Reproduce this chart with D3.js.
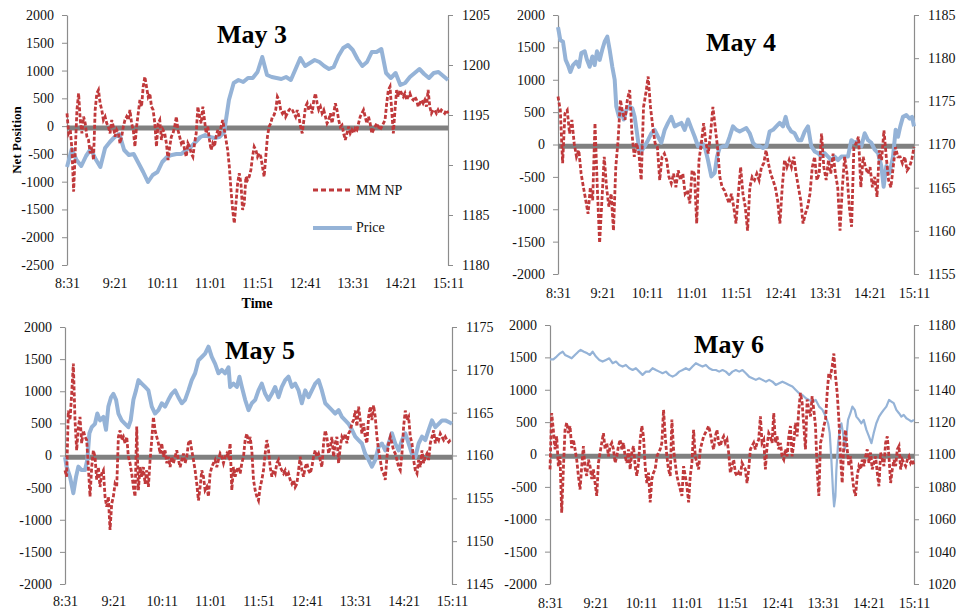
<!DOCTYPE html>
<html>
<head>
<meta charset="utf-8">
<script src="https://cdn.jsdelivr.net/npm/d3@7/dist/d3.min.js"></script>
<style>
  html, body { margin: 0; padding: 0; background: #fff; }
  svg { display: block; }
  text { font-family: "Liberation Serif", "Times New Roman", serif; }
</style>
</head>
<body>
<svg id="chart" width="958" height="614"></svg>
<script>
// Session clock: minutes after 8:31, labelled every 50 minutes
const timeLabels = ["8:31", "9:21", "10:11", "11:01", "11:51", "12:41", "13:31", "14:21", "15:11"];
const sessionMinutes = 400;

const dayTitles = ["May 3", "May 4", "May 5", "May 6"];
const seriesNames = ["MM NP", "Price"];

// Market-maker net position (contracts), evenly spaced through the session
const may3Net = [230,-130,-70,-430,-1180,-430,290,590,110,-130,170,50,-190,-250,-490,-370,-610,290,590,650,410,290,110,170,50,-10,-130,110,-10,-190,-70,-130,-310,-190,-10,110,170,110,290,50,-70,-370,-10,230,470,350,710,890,710,530,590,350,290,50,-370,50,110,-250,-70,-130,-310,-610,-370,-190,-130,-10,170,-70,-190,-310,-250,-430,-550,-310,-370,-490,-550,-310,-130,350,170,50,350,110,-130,-10,-250,-430,-310,-370,-190,-70,-190,-10,110,-70,-250,-430,-730,-1150,-1510,-1750,-1390,-1030,-850,-1030,-1510,-1390,-910,-970,-910,-790,-550,-370,-430,-550,-490,
  -550,-730,-910,-550,-190,-10,50,170,200,290,530,470,290,230,290,170,230,290,320,290,230,170,290,170,-10,-130,110,350,410,290,350,230,470,590,410,290,350,230,290,170,50,110,230,50,230,410,290,110,-10,20,-130,-250,-130,-10,-130,-70,-130,-40,-70,50,170,230,290,170,50,170,50,-130,-70,-10,50,-10,-70,-10,50,110,410,650,710,290,-130,290,650,530,650,590,530,590,470,530,590,500,470,530,470,350,410,470,410,470,350,650,350,230,290,290,230,290,230,290,260,230,290,230];
const may4Net = [740,530,-290,480,530,170,380,20,-190,-90,-450,-660,-860,-1070,-660,-860,330,-660,-1520,-860,-190,-660,-960,-760,-1330,-350,70,690,480,380,690,840,170,-190,20,-140,-550,580,790,1050,580,270,20,-40,-550,-190,-140,-240,-500,-600,-450,-660,-400,-550,-450,-760,-710,-910,-400,-450,-1220,-240,20,330,20,-140,170,580,270,-40,-500,-660,-710,-810,-910,-760,-960,-1220,-760,-350,-760,-960,-1330,-660,-500,-550,-450,-550,-350,-290,-90,-290,-450,-550,-660,-860,-1220,-660,-240,-350,-240,-350,-190,-450,-660,-860,-1220,-1070,-960,-760,-350,-190,-550,-450,170,-350,-550,-240,-450,-140,-450,-660,-1330,-660,-190,-450,-960,-1270,-40,20,120,-660,-190,-350,-450,-350,-660,-500,-810,-90,-240,220,-190,-550,-660,-350,-40,-190,-190,-290,-190,-400,-350,-240,-40];
const may5Net = [-230,-330,700,550,960,1430,550,80,450,600,190,390,290,240,-180,-640,-180,80,-20,-380,-180,-490,-280,-230,-640,-800,-640,-1160,-750,-640,-440,-490,290,390,240,290,190,290,-20,-120,-280,-490,-640,450,-540,-180,-330,-180,-440,-230,-490,-70,240,600,390,290,190,30,190,-20,80,-120,-20,-180,-20,-120,-20,80,-70,-180,-70,30,-120,-20,190,240,80,-70,-230,-440,-700,-490,-230,-330,-540,-490,-640,-280,-180,-120,-70,-180,-70,30,-20,-120,-20,30,-20,190,-540,-180,-330,-230,-180,-280,-120,-20,240,340,190,290,80,-380,-540,-640,-700,-490,-380,-230,30,240,80,-180,-330,-230,-280,-120,-70,-180,-230,-280,-230,-330,-280,-380,-440,-380,-490,-440,-230,-20,-230,-330,-180,-120,-230,-280,-180,-20,80,-20,30,-70,-180,190,390,290,30,130,290,-20,190,290,-120,130,290,240,340,190,340,390,500,550,700,450,760,550,340,500,290,190,600,760,550,780,600,290,80,-70,-230,-280,-380,-20,190,290,190,80,30,-70,-180,-230,30,450,700,550,600,290,190,-70,-230,-280,-70,-180,80,-120,-20,30,-70,190,290,390,190,290,240,340,290,240,290,240,210,240,240];
const may6Net = [-230,640,380,80,280,-180,-30,-900,-230,380,490,330,440,100,230,80,-80,-330,-540,-180,130,-230,-330,-80,-180,-380,-230,-440,-640,-130,30,180,330,80,180,-30,130,180,80,-130,-30,130,230,80,180,-30,-130,80,-230,30,130,-180,-330,-130,230,440,280,-180,-440,-280,-740,-380,-280,-230,-30,30,80,180,690,280,-30,-230,-330,540,80,-130,-330,-440,-540,-640,-180,-330,-490,-740,-330,-130,380,-30,-130,-230,80,180,280,330,380,440,330,180,80,280,380,180,130,230,280,180,230,30,-280,-180,-80,-280,-330,-280,-330,-130,-180,-230,-440,-230,80,130,180,80,180,230,590,180,230,-230,130,330,280,180,640,180,280,80,180,-30,-80,80,-30,280,440,-30,180,490,280,690,950,800,440,80,850,690,590,900,690,440,-230,-640,180,280,440,540,950,1260,1210,1360,1560,1210,950,540,-30,-440,180,380,80,-180,-30,-330,-540,-640,-330,-180,-230,-80,-180,-30,80,-130,30,-230,-130,-30,-280,-490,30,-80,-180,180,280,-30,-440,-230,-80,-180,80,130,-230,-80,-130,-180,-80,-30,-130,-80,-180];

// Futures price: May 3 every 5 minutes; other days as [minute, price]
const may3Price = [1189.8,1191.6,1190.5,1189.9,1190.9,1191.6,1190.6,1189.8,1191.7,1192.3,1192.8,1193.1,1191.5,1191.0,1191.1,1190.2,1189.3,1188.3,1189.0,1189.3,1190.3,1190.8,1191.0,1191.1,1191.1,1191.5,1191.8,1192.3,1192.8,1193.0,1192.8,1192.7,1192.8,1193.3,1196.5,1198.2,1198.5,1198.3,1198.7,1198.7,1199.3,1200.8,1199.0,1198.8,1198.7,1198.6,1198.8,1198.5,1199.6,1200.7,1199.9,1200.2,1200.5,1200.3,1199.9,1199.6,1199.8,1200.9,1201.7,1202.0,1201.5,1200.6,1199.9,1200.3,1201.3,1201.3,1201.6,1199.2,1198.7,1199.2,1198.0,1198.2,1198.8,1199.2,1199.6,1199.1,1198.7,1199.2,1199.3,1198.9,1198.5];
const may4Price = [[0,1183.6],[2.6,1182.1],[5.6,1181.9],[8.6,1179.8],[11.2,1179.2],[13.9,1178.4],[16.9,1179.2],[20.6,1179.6],[23.6,1179.0],[26.2,1180.6],[30,1180.8],[32.6,1179.8],[35.6,1179.0],[38.6,1180.2],[41.2,1179.2],[43.8,1180.8],[46.8,1179.8],[49.8,1181.0],[52.4,1181.9],[55.4,1182.5],[58,1181.0],[61,1179.0],[63.7,1177.5],[65.5,1174.4],[68.5,1173.2],[71.2,1174.0],[73.8,1172.9],[76.8,1174.0],[79.8,1174.4],[83.5,1174.2],[86.1,1173.2],[88.8,1171.3],[91.8,1169.0],[94.8,1169.4],[97.4,1169.8],[101.1,1170.5],[104.9,1171.3],[108.6,1171.7],[112.4,1170.9],[116.1,1170.2],[119.9,1171.7],[123.6,1172.5],[127.3,1173.2],[131.1,1172.1],[134.8,1172.3],[138.6,1172.5],[142.3,1171.7],[146.1,1172.9],[149.8,1171.9],[153.6,1170.9],[157.3,1169.8],[161,1170.2],[164.8,1169.8],[168.5,1168.2],[172.3,1166.3],[176,1166.7],[178.7,1168.6],[181.6,1169.6],[185.4,1169.8],[189.1,1169.8],[192.9,1170.9],[196.6,1172.1],[200.4,1171.7],[204.1,1171.5],[207.9,1171.7],[211.6,1171.9],[215.4,1171.3],[219.1,1170.2],[222.8,1169.8],[226.6,1169.8],[230.3,1169.6],[234.1,1169.8],[237.8,1171.5],[241.6,1171.7],[245.3,1172.1],[249.1,1172.5],[252.8,1172.1],[255.8,1173.2],[258.4,1172.1],[262.2,1171.5],[265.9,1171.3],[269.7,1170.5],[273.4,1170.5],[277.2,1171.5],[280.9,1172.1],[284.6,1169.8],[288.4,1169.2],[292.1,1169.0],[295.9,1168.6],[299.6,1169.0],[303.4,1168.6],[307.1,1168.2],[310.9,1168.6],[314.6,1168.2],[318.4,1168.6],[322.1,1168.6],[325.8,1168.6],[329.6,1170.5],[333.3,1170.2],[337.1,1170.4],[340.8,1169.8],[344.6,1171.3],[348.3,1170.5],[352.1,1170.2],[355.8,1169.4],[359.6,1169.0],[363.3,1167.5],[365.9,1165.1],[368.9,1167.5],[372.7,1166.7],[376.4,1168.6],[379.4,1171.7],[382,1170.9],[384.6,1172.1],[387.6,1173.2],[391.4,1173.4],[395.1,1173.0],[397.8,1173.2],[400,1172.1]];
const may5Price = [[0,1159.8],[1.7,1158.7],[5.2,1157.5],[8.6,1155.6],[11.4,1157.5],[13.8,1158.7],[17.2,1158.3],[20.7,1158.3],[23.1,1159.5],[25.2,1162.6],[27.6,1163.3],[31,1163.7],[33.4,1164.9],[36.2,1164.1],[39.7,1164.5],[42.4,1163.0],[44.8,1165.7],[47.6,1166.8],[50,1167.2],[52.8,1166.5],[55.2,1164.9],[58.6,1164.1],[62.1,1163.7],[65.5,1163.3],[67.9,1164.1],[70.7,1166.5],[73.4,1167.6],[75.9,1168.8],[79.3,1168.4],[82.8,1168.0],[86.2,1167.6],[89.7,1165.7],[93.1,1164.9],[96.6,1165.3],[100,1166.1],[103.4,1165.7],[106.9,1166.5],[110.3,1167.2],[113.8,1167.6],[117.2,1166.8],[120.7,1166.1],[124.1,1166.5],[127.6,1167.6],[131,1168.8],[134.5,1169.6],[137.9,1171.1],[141.4,1171.5],[144.8,1171.9],[148.3,1172.7],[151.7,1171.5],[155.2,1170.7],[158.6,1169.6],[162.1,1170.0],[165.5,1169.6],[169,1170.3],[170.7,1168.0],[174.1,1168.4],[177.6,1168.0],[180.3,1169.2],[182.8,1168.0],[186.2,1166.5],[189.7,1165.3],[193.1,1166.1],[196.6,1166.5],[200,1167.6],[203.4,1168.4],[206.9,1167.2],[210.3,1166.5],[213.8,1167.2],[217.2,1168.0],[220.7,1166.8],[224.1,1168.0],[227.6,1168.8],[231,1169.2],[234.5,1168.0],[237.9,1168.4],[241.4,1167.6],[244.8,1166.1],[248.3,1167.6],[251.7,1166.8],[255.2,1167.6],[258.6,1168.4],[262.1,1168.8],[265.5,1167.6],[269,1166.1],[272.4,1165.7],[275.9,1165.3],[279.3,1164.9],[282.8,1165.3],[286.2,1164.5],[289.7,1164.1],[293.1,1163.7],[296.6,1163.0],[300,1162.2],[303.4,1161.8],[306.9,1161.4],[310.3,1160.2],[313.8,1159.5],[317.2,1158.7],[320.7,1159.5],[324.1,1161.0],[327.6,1161.4],[331,1160.6],[334.5,1161.4],[337.9,1162.6],[341.4,1161.4],[344.8,1160.6],[348.3,1161.8],[351.7,1162.6],[355.2,1161.4],[358.6,1160.2],[362.1,1159.8],[365.5,1161.4],[369,1162.2],[372.4,1161.8],[375.9,1163.0],[379.3,1164.1],[382.8,1163.3],[386.2,1163.7],[389.7,1164.1],[393.1,1164.1],[396.6,1163.9],[400,1163.7]];
const may6Price = [[0,1158.8],[3.7,1158.8],[7.3,1160.5],[11,1162.5],[13.9,1163.5],[16.5,1161.5],[20.1,1160.5],[23.8,1159.4],[27.4,1161.5],[31.1,1163.5],[33.7,1164.6],[37.3,1163.5],[41,1162.5],[43.9,1161.5],[46.8,1163.5],[50.5,1160.5],[54.2,1158.4],[57.8,1157.4],[61.5,1158.4],[65.1,1159.4],[68.8,1156.4],[72.5,1157.4],[76.1,1155.3],[79.8,1154.3],[83.4,1155.3],[87.1,1153.3],[90.8,1152.2],[94.4,1153.3],[98.1,1151.2],[101.7,1149.2],[105.4,1151.2],[109.1,1151.2],[112.7,1153.3],[116.4,1152.2],[120,1151.2],[123.7,1150.2],[127.4,1151.2],[131,1149.2],[134.7,1148.1],[138.3,1149.2],[142,1151.2],[145.7,1152.2],[149.3,1153.3],[153,1152.2],[156.6,1154.3],[160.3,1156.4],[164,1155.3],[167.6,1154.3],[171.3,1155.3],[174.9,1153.3],[178.6,1152.2],[182.3,1152.2],[185.9,1151.2],[189.6,1152.2],[193.2,1151.2],[196.9,1149.2],[200.5,1151.2],[204.2,1152.2],[207.9,1151.2],[211.5,1152.2],[215.2,1150.2],[218.8,1148.1],[222.5,1147.1],[226.2,1146.1],[229.8,1147.1],[233.5,1146.1],[237.1,1145.0],[240.8,1146.1],[244.5,1145.0],[248.1,1143.0],[251.8,1144.0],[255.4,1145.0],[259.1,1144.0],[262.8,1143.0],[266.4,1142.0],[270.1,1139.9],[273.7,1137.8],[277.4,1136.8],[281.1,1134.8],[284.7,1133.7],[288.4,1132.7],[292,1133.7],[295.7,1129.6],[299.4,1127.6],[303,1123.4],[305.6,1119.3],[307.4,1113.2],[309.2,1096.7],[311.1,1076.1],[312.2,1067.9],[313.6,1074.1],[314.7,1090.5],[316.6,1107.0],[318.4,1115.2],[320.2,1119.3],[322,1113.2],[323.9,1102.9],[325.7,1111.1],[327.5,1121.4],[330.1,1125.5],[332.3,1129.6],[334.9,1127.6],[336.7,1123.4],[339.6,1121.4],[342.2,1119.3],[344.7,1121.4],[347.7,1115.2],[350.6,1111.1],[353.2,1107.0],[355.7,1113.2],[358.6,1119.3],[361.6,1123.4],[364.1,1125.5],[366.7,1127.6],[369.6,1129.6],[372.6,1133.7],[375.1,1132.7],[377.7,1131.7],[380.6,1127.6],[383.5,1125.5],[386.1,1123.4],[388.7,1124.5],[391.6,1122.4],[394.5,1121.4],[397.1,1120.4],[400,1121.4]];

const netTicksMay3 = [-2500, -2000, -1500, -1000, -500, 0, 500, 1000, 1500, 2000];
const netTicks = [-2000, -1500, -1000, -500, 0, 500, 1000, 1500, 2000];
const priceTicksMay3 = [1180, 1185, 1190, 1195, 1200, 1205];
const priceTicksMay4 = [1155, 1160, 1165, 1170, 1175, 1180, 1185];
const priceTicksMay5 = [1145, 1150, 1155, 1160, 1165, 1170, 1175];
const priceTicksMay6 = [1020, 1040, 1060, 1080, 1100, 1120, 1140, 1160, 1180];

// Panel frames (pixel layout) and styles
const colors = { net: "#C0393B", price: "#95B3D7", zero: "#808080", axis: "#8C8C8C", text: "#111" };
const panels = [
  { net: may3Net, price: may3Price, netTicks: netTicksMay3, priceTicks: priceTicksMay3,
    x0: 67, x1: 448, y0: 15, y1: 265, labelY: 288, titleX: 252, titleY: 43, priceWidth: 4, legend: true },
  { net: may4Net, price: may4Price, netTicks: netTicks, priceTicks: priceTicksMay4,
    x0: 558, x1: 914, y0: 15, y1: 274, labelY: 298, titleX: 741, titleY: 51, priceWidth: 4 },
  { net: may5Net, price: may5Price, netTicks: netTicks, priceTicks: priceTicksMay5,
    x0: 65, x1: 452, y0: 327, y1: 584, labelY: 606, titleX: 260, titleY: 359, priceWidth: 4 },
  { net: may6Net, price: may6Price, netTicks: netTicks, priceTicks: priceTicksMay6,
    x0: 550, x1: 914, y0: 325, y1: 584, labelY: 608, titleX: 729, titleY: 353, priceWidth: 2.2 }
];

const svg = d3.select("#chart");
const tickMinutes = timeLabels.map((_, i) => i * sessionMinutes / (timeLabels.length - 1));
const plainNumber = d => String(d);

// Turn a value list or [minute, value] list into points
function asPoints(series) {
  if (Array.isArray(series[0])) return series;
  return series.map((v, i) => [i * sessionMinutes / (series.length - 1), v]);
}

panels.forEach((p, k) => {
  const g = svg.append("g");
  const x = d3.scaleLinear().domain([0, sessionMinutes]).range([p.x0, p.x1]);
  const yNet = d3.scaleLinear().domain(d3.extent(p.netTicks)).range([p.y1, p.y0]);
  const yPrice = d3.scaleLinear().domain(d3.extent(p.priceTicks)).range([p.y1, p.y0]);

  // Left axis (net position)
  const left = g.append("g").attr("transform", `translate(${p.x0},0)`)
    .call(d3.axisLeft(yNet).tickValues(p.netTicks).tickSize(5).tickSizeOuter(0).tickPadding(8).tickFormat(plainNumber));
  // Right axis (price)
  const right = g.append("g").attr("transform", `translate(${p.x1},0)`)
    .call(d3.axisRight(yPrice).tickValues(p.priceTicks).tickSize(5).tickSizeOuter(0).tickPadding(9).tickFormat(plainNumber));
  [left, right].forEach(ax => {
    ax.select(".domain").attr("stroke", colors.axis).attr("stroke-width", 1.2);
    ax.selectAll(".tick line").attr("stroke", colors.axis);
    ax.selectAll(".tick text").attr("fill", colors.text).style("font-size", "14px")
      .style("font-family", "'Liberation Serif', serif");
  });

  // Time labels under the plot
  const bottom = g.append("g").attr("transform", `translate(0,${p.labelY})`)
    .call(d3.axisBottom(x).tickValues(tickMinutes).tickSize(0).tickPadding(0)
      .tickFormat((d, i) => timeLabels[i]));
  bottom.select(".domain").remove();
  bottom.selectAll(".tick text").attr("dy", 0).attr("y", 0).attr("fill", colors.text)
    .style("font-size", "14px").style("font-family", "'Liberation Serif', serif");

  // Zero reference band
  g.append("line")
    .attr("x1", p.x0).attr("x2", p.x1)
    .attr("y1", yNet(0) + 1.8).attr("y2", yNet(0) + 1.8)
    .attr("stroke", colors.zero).attr("stroke-width", 5);

  // Price line
  g.append("path").datum(asPoints(p.price))
    .attr("fill", "none").attr("stroke", colors.price).attr("stroke-width", p.priceWidth)
    .attr("stroke-linejoin", "round")
    .attr("d", d3.line().x(d => x(d[0])).y(d => yPrice(d[1])));

  // Net position line
  g.append("path").datum(asPoints(p.net))
    .attr("fill", "none").attr("stroke", colors.net).attr("stroke-width", 2.8)
    .attr("stroke-dasharray", "4,2")
    .attr("d", d3.line().x(d => x(d[0])).y(d => yNet(d[1])));

  // Day title
  g.append("text").attr("x", p.titleX).attr("y", p.titleY).attr("text-anchor", "middle")
    .style("font-size", "26px").style("font-weight", "bold").attr("fill", "#000")
    .text(dayTitles[k]);

  if (p.legend) {
    const lg = g.append("g");
    lg.append("line").attr("x1", 313).attr("x2", 352).attr("y1", 190).attr("y2", 190)
      .attr("stroke", colors.net).attr("stroke-width", 2.8).attr("stroke-dasharray", "5,3");
    lg.append("text").attr("x", 356).attr("y", 195).style("font-size", "14px").attr("fill", colors.text)
      .text(seriesNames[0]);
    lg.append("line").attr("x1", 313).attr("x2", 352).attr("y1", 228).attr("y2", 228)
      .attr("stroke", colors.price).attr("stroke-width", 4);
    lg.append("text").attr("x", 356).attr("y", 232).style("font-size", "14px").attr("fill", colors.text)
      .text(seriesNames[1]);

    g.append("text").attr("x", 257).attr("y", 308).attr("text-anchor", "middle")
      .style("font-size", "14px").style("font-weight", "bold").attr("fill", "#000").text("Time");
    g.append("text").attr("transform", "translate(21,140) rotate(-90)").attr("text-anchor", "middle")
      .style("font-size", "13px").style("font-weight", "bold").attr("fill", "#000").text("Net Position");
  }
});
</script>
</body>
</html>
